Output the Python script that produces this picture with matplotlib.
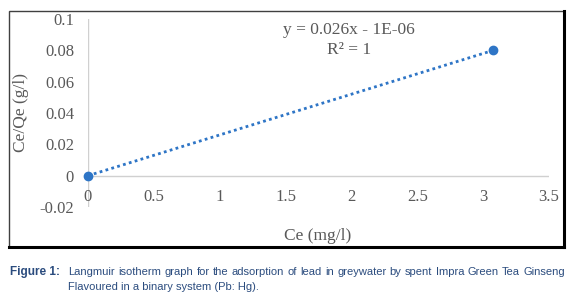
import matplotlib.pyplot as plt
from matplotlib.patches import Rectangle

ce = [0.0, 3.077]
ce_qe = [0.0, 0.08]
xticks = [0, 0.5, 1, 1.5, 2, 2.5, 3, 3.5]
yticks = [-0.02, 0, 0.02, 0.04, 0.06, 0.08, 0.1]
slope = 0.026
intercept = -1e-06

W, H = 578, 306
fig = plt.figure(figsize=(W / 100, H / 100), dpi=100)

# outer chart frame
fig.patches.append(Rectangle((9 / W, 1 - 247 / H), (564 - 9) / W, (247 - 11) / H,
                             transform=fig.transFigure, fill=False,
                             edgecolor='#404040', linewidth=1.0))
fig.add_artist(plt.Line2D([564 / W, 564 / W], [1 - 247 / H, 1 - 11 / H],
                          transform=fig.transFigure, color='black', linewidth=2.2))
fig.add_artist(plt.Line2D([9 / W, 564 / W], [1 - 247 / H, 1 - 247 / H],
                          transform=fig.transFigure, color='black', linewidth=2.2))

ax = fig.add_axes([88 / W, 1 - 207 / H, (549 - 88) / W, (207 - 19) / H])
ax.set_xlim(0, 3.5)
ax.set_ylim(-0.02, 0.1)
for s in ax.spines.values():
    s.set_visible(False)
ax.axvline(0, color='#d0d0d0', linewidth=1)
ax.axhline(0, color='#d0d0d0', linewidth=1)

blue = '#2E75C6'
ax.plot([ce[0], ce[-1]], [slope * ce[0] + intercept, slope * ce[-1] + intercept],
        linestyle=(0, (1, 1.2)), color=blue, linewidth=2)
ax.plot(ce, ce_qe, 'o', color=blue, markersize=6, clip_on=False)

serif = 'Liberation Serif'
ax.set_xticks(xticks)
ax.set_yticks(yticks)
ax.set_yticklabels(['-0.02', '0', '0.02', '0.04', '0.06', '0.08', '0.1'])
ax.tick_params(length=0, labelsize=12, colors='#595959')
ax.tick_params(axis='y', pad=10)
ax.tick_params(axis='x', labelbottom=False)
for t in ax.get_yticklabels():
    t.set_fontfamily(serif)
for t in xticks:
    ax.text(t, -0.0134, f'{t:g}', ha='center', va='center', fontsize=12,
            family=serif, color='#595959')

fig.text(318 / W, 1 - 236 / H, 'Ce (mg/l)', ha='center', va='center',
         fontsize=12.5, family=serif, color='#595959')
fig.text(21 / W, 1 - 112 / H, 'Ce/Qe (g/l)', ha='center', va='center',
         rotation=90, fontsize=12.5, family=serif, color='#595959')
fig.text(349 / W, 1 - 30 / H, 'y = 0.026x - 1E-06', ha='center', va='center',
         fontsize=12.5, family=serif, color='#595959')
fig.text(349 / W, 1 - 50 / H, 'R² = 1', ha='center', va='center',
         fontsize=12.5, family=serif, color='#595959')

# caption, first line justified
cap = '#2B4C7E'
sans = 'Liberation Sans'
fig.text(10 / W, 1 - 272 / H, 'Figure 1:', ha='left', va='center', fontsize=8.5,
         family=sans, weight='bold', color=cap)
words = 'Langmuir isotherm graph for the adsorption of lead in greywater by spent Impra Green Tea Ginseng'.split()
x0, x1 = 68, 565
renderer = fig.canvas.get_renderer()
texts = [fig.text(0, 1 - 272 / H, w, ha='left', va='center', fontsize=8,
                  family=sans, color=cap) for w in words]
wids = [t.get_window_extent(renderer).width for t in texts]
gap = (x1 - x0 - sum(wids)) / (len(words) - 1)
x = x0
for t, wd in zip(texts, wids):
    t.set_x(x / W)
    x += wd + gap
fig.text(68 / W, 1 - 287 / H, 'Flavoured in a binary system (Pb: Hg).', ha='left',
         va='center', fontsize=8, family=sans, color=cap)

fig.savefig('out.png', dpi=100)
